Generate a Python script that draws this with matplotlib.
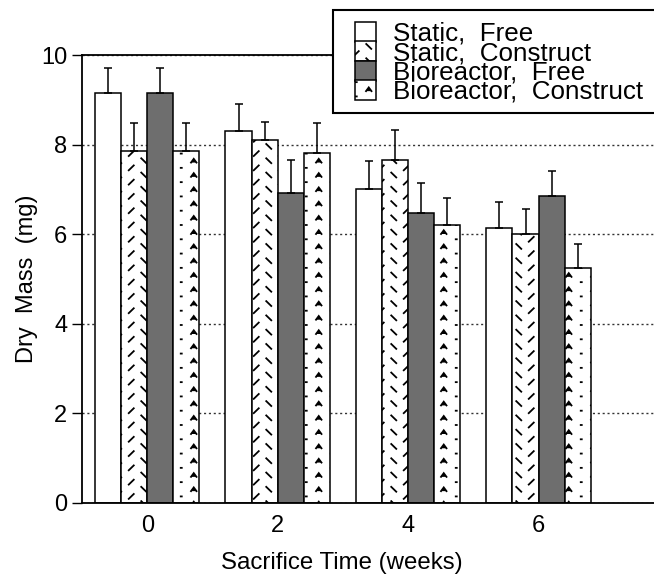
import matplotlib
matplotlib.use('Agg')
import matplotlib.pyplot as plt
import matplotlib.hatch as mhatch
from matplotlib.path import Path
from matplotlib.patches import Rectangle
import numpy as np

# values (mg)
weeks = [0, 2, 4, 6]
labels = ['Static,  Free', 'Static,  Construct', 'Bioreactor,  Free', 'Bioreactor,  Construct']

static_free = [9.16, 8.30, 7.01, 6.14]
static_free_err = [0.56, 0.60, 0.63, 0.58]
static_con = [7.85, 8.11, 7.65, 6.00]
static_con_err = [0.64, 0.39, 0.67, 0.55]
bio_free = [9.16, 6.91, 6.46, 6.86]
bio_free_err = [0.56, 0.74, 0.68, 0.55]
bio_con = [7.85, 7.82, 6.21, 5.24]
bio_con_err = [0.64, 0.65, 0.59, 0.53]

# custom hatches: 'k' = short / and \ strokes, 'v' = carets with dots
NX, NY = 4, 7


class DashHatch(mhatch.HatchPatternBase):
    def __init__(self, hatch, density):
        self.num_vertices = 4 * NX * NY if 'k' in hatch else 0

    def set_vertices_and_codes(self, vertices, codes):
        hx, hy = 0.1 / NX, 0.17 / NY
        i = 0
        for ix in range(NX):
            for iy in range(NY):
                x0, y0 = (ix + 0.25) / NX, (iy + 0.25) / NY
                x1, y1 = (ix + 0.75) / NX, (iy + 0.75) / NY
                vertices[i:i + 4] = [(x0 - hx, y0 - hy), (x0 + hx, y0 + hy),
                                     (x1 - hx, y1 + hy), (x1 + hx, y1 - hy)]
                codes[i:i + 4] = [Path.MOVETO, Path.LINETO, Path.MOVETO, Path.LINETO]
                i += 4


class CaretHatch(mhatch.HatchPatternBase):
    def __init__(self, hatch, density):
        self.num_vertices = 5 * NX * NY if 'v' in hatch else 0

    def set_vertices_and_codes(self, vertices, codes):
        hx, hy = 0.11 / NX, 0.13 / NY
        d = 0.02 / NX
        i = 0
        for ix in range(NX):
            for iy in range(NY):
                x0, y0 = (ix + 0.25) / NX, (iy + 0.25) / NY
                x1, y1 = (ix + 0.75) / NX, (iy + 0.75) / NY
                vertices[i:i + 5] = [(x0 - d, y0), (x0 + d, y0),
                                     (x1 - hx, y1 - hy), (x1, y1 + hy), (x1 + hx, y1 - hy)]
                codes[i:i + 5] = [Path.MOVETO, Path.LINETO,
                                  Path.MOVETO, Path.LINETO, Path.LINETO]
                i += 5


mhatch._hatch_types.extend([DashHatch, CaretHatch])
mhatch._validate_hatch_pattern = lambda hatch: None

plt.rcParams['font.family'] = ['Liberation Sans', 'DejaVu Sans']
plt.rcParams['hatch.linewidth'] = 1.3

fig = plt.figure(figsize=(6.54, 5.76), dpi=100)
ax = fig.add_axes([82 / 654, 1 - 502.7 / 576, 1 - 82 / 654, (502.7 - 55) / 576])

x = np.array(weeks, dtype=float)
w = 0.4
series = [
    (static_free, static_free_err, 'white', None),
    (static_con, static_con_err, 'white', 'k'),
    (bio_free, bio_free_err, '#6e6e6e', None),
    (bio_con, bio_con_err, 'white', 'v'),
]
handles = []
for k, (vals, errs, fc, hatch) in enumerate(series):
    pos = x + (k - 1.5) * w
    b = ax.bar(pos, vals, width=w, color=fc, edgecolor='black', linewidth=1.1,
               hatch=hatch, zorder=2)
    ax.errorbar(pos, vals, yerr=[np.zeros(len(errs)), errs], fmt='none',
                ecolor='black', elinewidth=1.1, capsize=2.6, capthick=1.1, zorder=3)
    handles.append(b)

ax.set_xlim(-1, 7.77)
ax.set_ylim(0, 10)
ax.set_xticks(weeks)
ax.set_yticks([0, 2, 4, 6, 8, 10])
ax.yaxis.grid(True, linestyle=(0, (1.5, 2.0)), color='#333333', linewidth=1.0)
ax.set_axisbelow(True)

for s in ['left', 'bottom', 'top']:
    ax.spines[s].set_linewidth(1.3)
ax.spines['right'].set_visible(False)

ax.tick_params(axis='y', direction='out', length=7, width=1.0, pad=3.5, labelsize=17)
ax.tick_params(axis='x', length=0, pad=9, labelsize=17)
ax.set_ylabel('Dry  Mass  (mg)', fontsize=17, labelpad=2)
ax.set_xlabel('Sacrifice Time (weeks)', fontsize=17.3)
ax.xaxis.set_label_coords((342 - 82) / 572, -0.11)

# legend box (runs off the right edge like the original)
fig.patches.append(Rectangle((333 / 654, 1 - 113 / 576), 0.5, 103.5 / 576,
                             transform=fig.transFigure, facecolor='white',
                             edgecolor='black', linewidth=1.5, zorder=4))
fig.legend(handles, labels, loc='upper left', bbox_to_anchor=(355 / 654, 1 - 22 / 576),
           frameon=False, borderpad=0, borderaxespad=0, handlelength=0.8,
           handleheight=0.8, handletextpad=0.68, labelspacing=-0.18, fontsize=18.7)

fig.savefig('out.png', dpi=100)
